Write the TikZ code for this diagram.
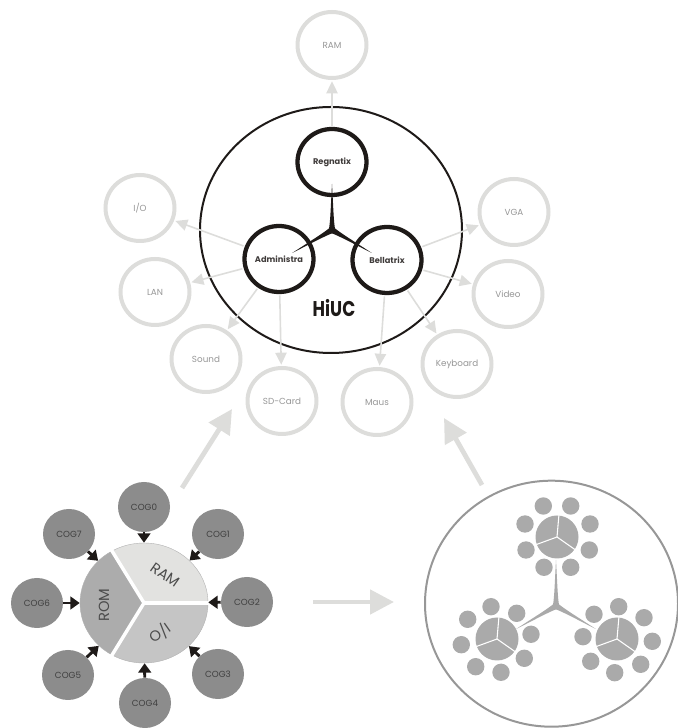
\documentclass[tikz,border=0pt]{standalone}
\usepackage{fontspec}
\setmainfont{Poppins}
\usetikzlibrary{arrows.meta,shapes.geometric}
\definecolor{ringgray}{RGB}{221,221,219}
\definecolor{labelgray}{RGB}{150,150,150}
\definecolor{coggray}{RGB}{140,140,140}
\definecolor{minigray}{RGB}{170,170,170}
\definecolor{romgray}{RGB}{172,172,172}
\definecolor{ramgray}{RGB}{226,226,224}
\definecolor{iogray}{RGB}{197,197,197}
\definecolor{darkline}{RGB}{30,26,24}
\tikzset{
    chip/.style={ellipse,draw=darkline,line width=3.2pt,minimum width=51.75pt,minimum height=49.5pt,inner sep=0pt,font=\fontsize{6.2}{7}\selectfont\bfseries,text=darkline!85},
    device/.style={ellipse,draw=ringgray,line width=3pt,minimum width=51.75pt,minimum height=49.5pt,inner sep=0pt,font=\fontsize{6.6}{7}\selectfont,text=labelgray},
    cog/.style={ellipse,fill=coggray,minimum width=39pt,minimum height=37.5pt,inner sep=0pt,font=\fontsize{6.6}{7}\selectfont,text=black!75},
    busarrow/.style={draw=ringgray,line width=1.2pt,-{Triangle[length=9pt,width=8.5pt]},shorten >=1pt,shorten <=1pt},
    cogarrow/.style={draw=darkline,line width=2.2pt,-{Triangle[length=7pt,width=9.5pt]}},
    bigarrow/.style={draw=ringgray,line width=3.6pt,-{Triangle[length=18pt,width=18pt]}},
    seglabel/.style={font=\fontsize{11}{12}\selectfont,text=black!70},
    segment/.style={draw=black!30,line width=0.3pt}
}
\newcommand{\threearms}[2]{
    \foreach \a in {0,120,240}
        \fill[#2,shift={(#1)},rotate=\a] (-3.2,0) .. controls (-1.6,8) and (-1.2,25) .. (0,46) .. controls (1.2,25) and (1.6,8) .. (3.2,0) -- (0,-2.6) -- cycle;
}
\begin{document}
\begin{tikzpicture}[x=0.75pt,y=0.75pt]
    \useasboundingbox (0,0) rectangle (678,728);
    % hive
    \node[ellipse,draw=darkline,line width=1.5pt,minimum width=196.5pt,minimum height=184.5pt,inner sep=0pt] (hive) at (331,498) {};
    \node[chip] (regnatix) at (332,566) {Regnatix};
    \node[chip] (administra) at (279,469) {Administra};
    \node[chip] (bellatrix) at (387,468) {Bellatrix};
    \coordinate (hivecenter) at (332,498);
    \threearms{hivecenter}{darkline}
    \node[font=\fontsize{16}{17}\selectfont\bfseries,text=darkline,inner sep=0pt,xscale=0.8] (logo) at (334,420) {HiUC};
    % devices
    \node[device] (ram) at (332,683) {RAM};
    \node[device] (io) at (140,520) {I/O};
    \node[device] (lan) at (155,436) {LAN};
    \node[device] (sound) at (206,369) {Sound};
    \node[device] (sdcard) at (282,327) {SD-Card};
    \node[device] (maus) at (377,326) {Maus};
    \node[device] (keyboard) at (457,364) {Keyboard};
    \node[device] (video) at (508,434) {Video};
    \node[device] (vga) at (514,516) {VGA};
    \draw[busarrow] (regnatix) -- (ram);
    \foreach \d in {io,lan,sound,sdcard}
        \draw[busarrow] (administra) -- (\d);
    \foreach \d in {maus,keyboard,video,vga}
        \draw[busarrow] (bellatrix) -- (\d);
    % propeller
    \node[ellipse,minimum width=96pt,minimum height=90pt,inner sep=0pt] (core) at (144,125) {};
    \fill[romgray,segment] (144,125) -- ++(120:64 and 60) arc (120:240:64 and 60) -- cycle;
    \fill[ramgray,segment] (144,125) -- ++(0:64 and 60) arc (0:120:64 and 60) -- cycle;
    \fill[iogray,segment] (144,125) -- ++(240:64 and 60) arc (240:360:64 and 60) -- cycle;
    \foreach \a in {0,120,240}
        \draw[white,line width=2.6pt] (144,125) -- ++(\a:66 and 62);
    \node[seglabel,rotate=-35] (ramseg) at (165,153) {RAM};
    \node[seglabel,rotate=90] (romseg) at (104,123) {ROM};
    \node[seglabel,rotate=215] (ioseg) at (160,95) {I/O};
    \foreach \i/\x/\y in {0/144/221,1/218/194,2/247/126,3/218/54,4/145/25,5/68/53,6/37/125,7/69/194} {
        \node[cog] (cog\i) at (\x,\y) {COG\i};
        \draw[cogarrow] (cog\i) -- (core);
    }
    % hive of hives
    \node[ellipse,draw=coggray!90,line width=1.5pt,minimum width=189.75pt,minimum height=184.5pt,inner sep=0pt] (net) at (551.5,124.3) {};
    \coordinate (netcenter) at (556,122);
    \threearms{netcenter}{minigray}
    \foreach \x/\y in {557/191,497/89,617/89} {
        \fill[minigray] (\x,\y) circle (21.5);
        \foreach \a in {85,200,325}
            \draw[white,line width=0.8pt] (\x,\y) -- ++(\a:22);
    }
    \foreach \x/\y in {543.3/222,570.7/222,590/204,589.3/178,570.7/160.7,544/160.7,526/178,525/204,
        491/121.3,516.7/114.7,531/93.7,524.3/69.7,501/55.7,475.7/61.3,461.3/83.3,467.7/108.7,
        618.7/121.3,644/110.3,652.3/86.7,640.7/63.7,614.7/55.3,590.7/66.7,583/91.3,594/113.7}
        \fill[minigray] (\x,\y) circle (8.7);
    % big arrows
    \coordinate (tailleft) at (182,240);
    \coordinate (tipleft) at (232,319);
    \coordinate (tailright) at (482,243);
    \coordinate (tipright) at (444,310);
    \coordinate (tailmid) at (313,126);
    \coordinate (tipmid) at (394,126);
    \draw[bigarrow] (tailleft) -- (tipleft);
    \draw[bigarrow] (tailright) -- (tipright);
    \draw[bigarrow] (tailmid) -- (tipmid);
\end{tikzpicture}
\end{document}
